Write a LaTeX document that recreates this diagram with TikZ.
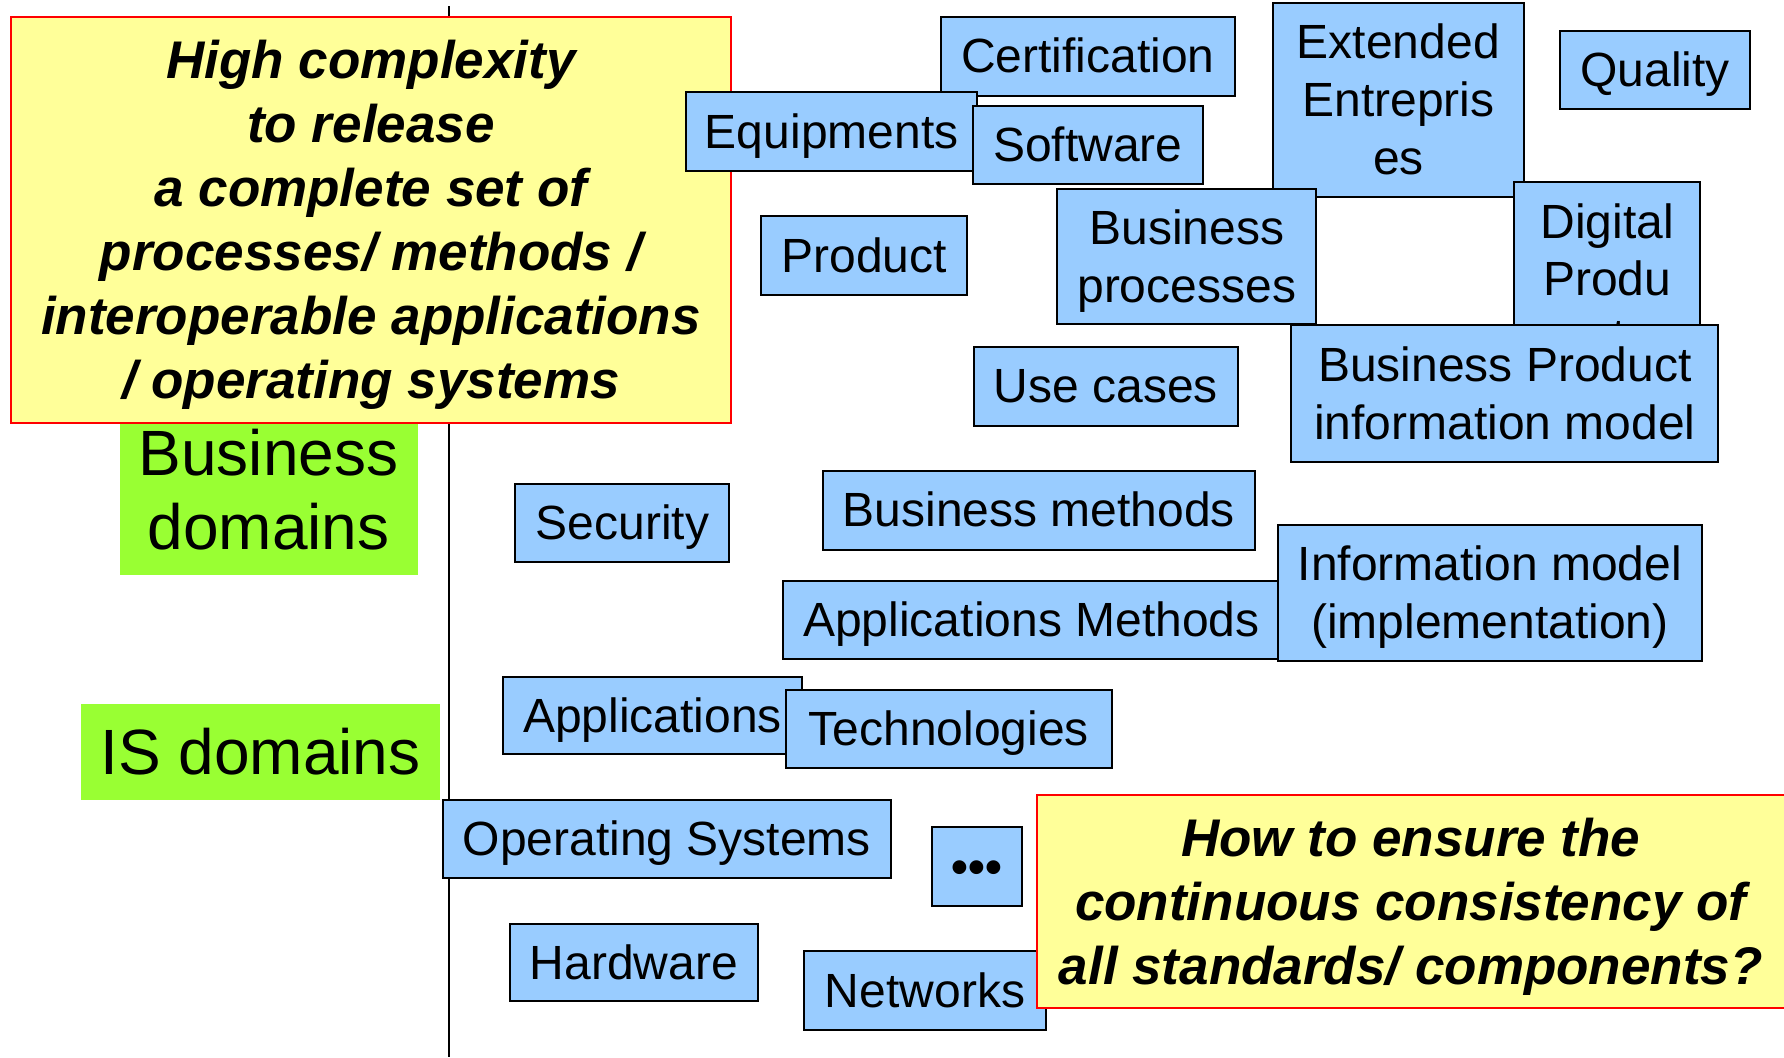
\documentclass[tikz,border=0pt]{standalone}
\usepackage{fontspec}
\setmainfont{Liberation Sans}
\definecolor{boxblue}{HTML}{99CCFF}
\definecolor{limegreen}{HTML}{99FF33}
\definecolor{paleyellow}{HTML}{FFFF99}
% invisible struts giving a line the font's full ascent/descent
\newcommand{\lsb}{\rule[-5.1pt]{0pt}{26.8pt}}
\newcommand{\lsy}{\rule[-5.6pt]{0pt}{29.6pt}}
\tikzset{
  bbox/.style={draw=black, line width=1pt, fill=boxblue, inner sep=0pt, align=center,
    font=\fontsize{24}{29}\selectfont,
    execute at begin node={\lsb}, execute at end node={\lsb}},
  gbox/.style={draw=none, fill=limegreen, inner sep=0pt, align=center,
    font=\fontsize{32}{37}\selectfont},
  ybox/.style={draw=red, line width=1pt, fill=paleyellow, inner sep=0pt, align=center,
    font=\fontsize{26.5}{32}\selectfont\bfseries\itshape},
  axis/.style={draw=black, line width=1pt},
  plain/.style={inner sep=0pt, align=center, font=\fontsize{24}{28.5}\selectfont},
  gtext/.style={inner sep=0pt, align=center, font=\fontsize{32}{37}\selectfont},
}
% #1 style, #2 x1, #3 y1, #4 x2, #5 y2, #6 name, #7 text
\newcommand{\mybox}[7]{%
  \pgfmathsetmacro{\myBW}{(#4-#2)*0.5}%
  \pgfmathsetmacro{\myBH}{(#5-#3)*0.5}%
  \pgfmathsetmacro{\myCX}{(#2+#4)/2}%
  \pgfmathsetmacro{\myCY}{(#3+#5)/2}%
  \node[#1, minimum width=\myBW pt, minimum height=\myBH pt] (#6) at (\myCX,\myCY) {#7};}
\begin{document}
\begin{tikzpicture}[x=0.5pt,y=-0.5pt]
\useasboundingbox (0,0) rectangle (1784,1057);
% vertical separator
\coordinate (ltop) at (449,6);
\coordinate (lbot) at (449,1057);
\draw[axis] (ltop) -- (lbot);
% green domain labels
\mybox{gbox}{119.5}{421}{417.6}{574.6}{busdom}{}
\node[gtext] (busdomtxt) at ([yshift=4pt]busdom.center) {Business\\domains};
\mybox{gbox}{80.8}{704.3}{440.3}{799.9}{isdom}{IS domains}
% yellow callout 1
\mybox{ybox}{11.4}{17}{730.5}{422.5}{complex}{\lsy High complexity\\to release\\a complete set of\\processes/ methods /\\interoperable applications\\/ operating systems\lsy}
% blue boxes
\mybox{bbox}{941}{17}{1234.5}{95.6}{cert}{Certification}
\mybox{bbox}{686}{92.2}{977.4}{170.7}{equip}{Equipments}
\mybox{bbox}{972.8}{105.8}{1202.7}{184.3}{soft}{Software}
\mybox{bbox}{1273.2}{3.4}{1523.5}{196.8}{ext}{\lsb Extended\\Entrepris\\es\lsb}
\mybox{bbox}{1560}{30.7}{1750}{109.2}{qual}{Quality}
\mybox{bbox}{761.2}{216.2}{967.1}{294.7}{prod}{Product}
\mybox{bbox}{1057}{188.9}{1316.4}{324.3}{bproc}{\lsb Business\\processes\lsb}
\mybox{bbox}{1514.4}{182}{1699.9}{330}{digital}{}
\node[plain, anchor=north] (digitaltxt) at ([yshift=-11pt]digital.north) {Digital\\Produ\\ct};
\mybox{bbox}{1291.4}{325.4}{1718.1}{461.9}{bpim}{\lsb Business Product\\information model\lsb}
\mybox{bbox}{974}{347}{1237.9}{425.5}{usec}{Use cases}
\mybox{bbox}{515.4}{483.6}{729.3}{562.1}{sec}{Security}
\mybox{bbox}{822.6}{471}{1255}{549.6}{bmeth}{Business methods}
\mybox{bbox}{782.8}{581.4}{1280}{658.8}{ameth}{Applications Methods}
\mybox{bbox}{1277.8}{524.5}{1702.1}{661}{infom}{\lsb Information model\\(implementation)\lsb}
\mybox{bbox}{502.9}{677}{802.1}{754.4}{apps}{Applications}
\mybox{bbox}{786.2}{689.5}{1111.6}{768}{tech}{Technologies}
\mybox{bbox}{442.6}{799.9}{890.9}{878.4}{os}{Operating Systems}
\mybox{bbox}{931.9}{827.2}{1021.7}{905.7}{dots}{\textbf{•••}}
\mybox{bbox}{509.7}{923.9}{757.8}{1001.3}{hw}{Hardware}
\mybox{bbox}{804.4}{951.2}{1045.6}{1029.7}{net}{Networks}
% yellow callout 2
\mybox{ybox}{1036.5}{795.3}{1785}{1008}{consist}{\lsy How to ensure the\\continuous consistency of\\all standards/ components?\lsy}
\end{tikzpicture}
\end{document}
